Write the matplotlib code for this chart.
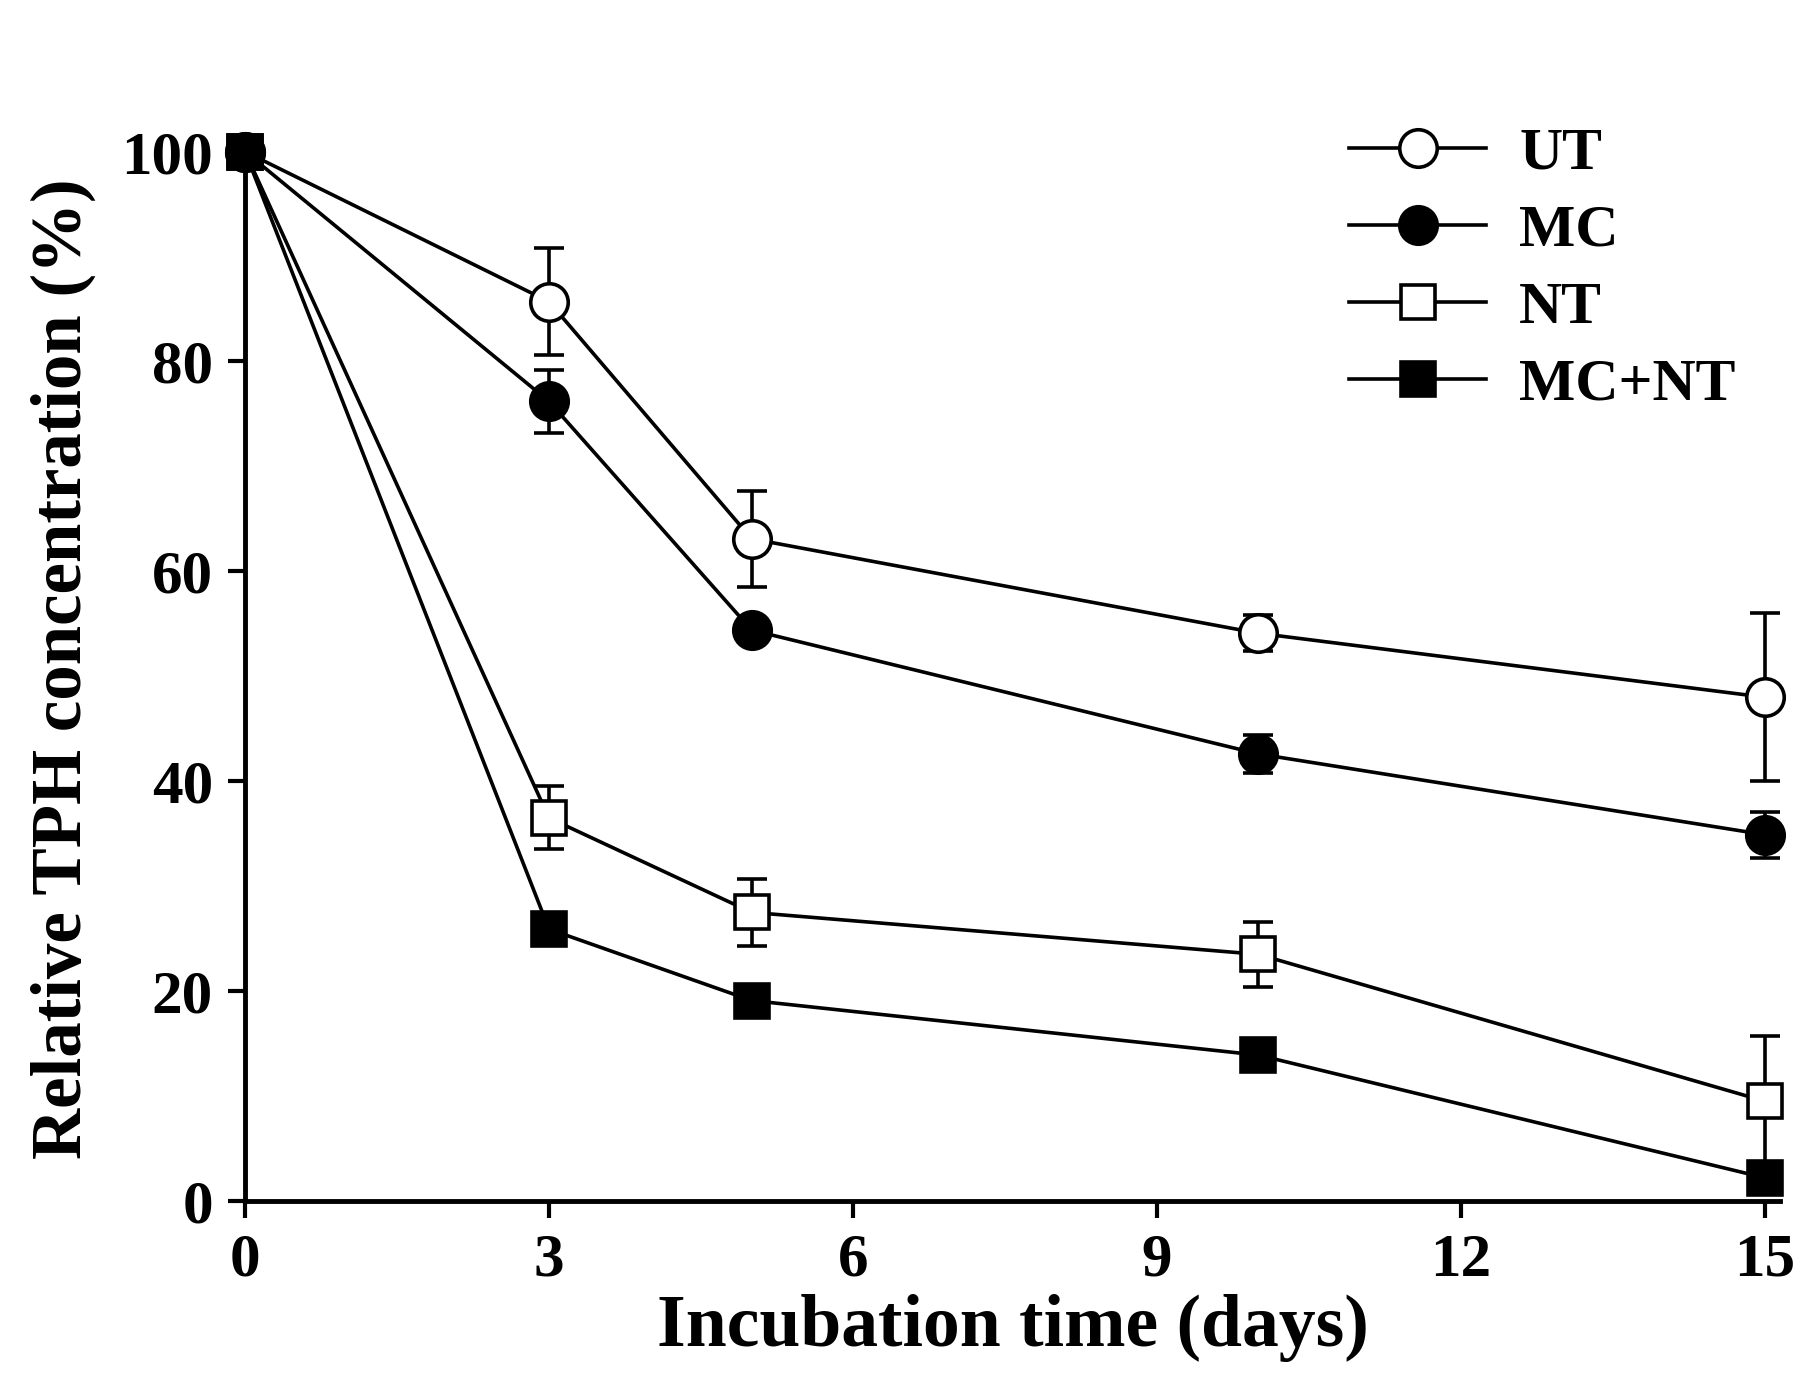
import matplotlib
matplotlib.use("Agg")
import matplotlib.pyplot as plt

plt.rcParams['font.family'] = ['Liberation Serif', 'DejaVu Serif']
plt.rcParams['font.weight'] = 'bold'

days = [0, 3, 5, 10, 15]
ut = [100, 85.7, 63.1, 54.1, 48.0]
ut_err = [0, 5.1, 4.6, 1.7, 8.0]
mc = [100, 76.2, 54.4, 42.6, 34.9]
mc_err = [0, 3.0, 0.9, 1.8, 2.2]
nt = [100, 36.5, 27.5, 23.5, 9.5]
nt_err = [0, 3.0, 3.2, 3.1, 6.2]
mcnt = [100, 25.9, 19.1, 13.9, 2.2]
mcnt_err = [0, 0.6, 0.5, 0.6, 0.6]

series = [
    ("UT", ut, ut_err, "o", "white"),
    ("MC", mc, mc_err, "o", "black"),
    ("NT", nt, nt_err, "s", "white"),
    ("MC+NT", mcnt, mcnt_err, "s", "black"),
]

fig = plt.figure(figsize=(18.04, 13.85), dpi=100)
ax = fig.add_axes([0.1358, 0.1329, 0.851, 0.769])

for name, vals, err, mk, fc in series:
    ax.errorbar(days, vals, yerr=err, color="black", lw=2.6, marker=mk,
                ms=27 if mk == "o" else 25, mfc=fc, mec="black", mew=2.6,
                capsize=11, capthick=2.8, elinewidth=2.6, label=name,
                clip_on=False, zorder=3)

ax.set_xlim(0, 15.15)
ax.set_ylim(0, 101.5)
ax.set_xticks([0, 3, 6, 9, 12, 15])
ax.set_yticks([0, 20, 40, 60, 80, 100])
ax.spines['top'].set_visible(False)
ax.spines['right'].set_visible(False)
for s in ['left', 'bottom']:
    ax.spines[s].set_linewidth(3.5)
ax.tick_params(direction='out', length=12, width=3, labelsize=44, pad=11)
for lab in ax.get_xticklabels() + ax.get_yticklabels():
    lab.set_fontweight('bold')

ax.set_xlabel("Incubation time (days)", fontsize=53, fontweight='bold', labelpad=4)
ax.set_ylabel("Relative TPH concentration (%)", fontsize=51, fontweight='bold', labelpad=18)

handles, labels = ax.get_legend_handles_labels()
handles = [h[0] for h in handles]
leg = ax.legend(handles, labels, loc='upper left', bbox_to_anchor=(1349 / 1804, 1 - 127 / 1385),
                bbox_transform=fig.transFigure, frameon=False, fontsize=43,
                handlelength=2.3, handletextpad=0.55, labelspacing=0.37,
                borderpad=0, borderaxespad=0)
for t in leg.get_texts():
    t.set_fontweight('bold')

fig.savefig("out.png", dpi=100)
